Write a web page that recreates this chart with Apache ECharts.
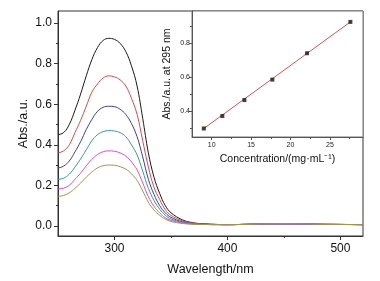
<!DOCTYPE html>
<html>
<head>
<meta charset="utf-8">
<script src="https://cdn.jsdelivr.net/npm/echarts@6/dist/echarts.min.js"></script>
<style>
  html, body { margin: 0; padding: 0; background: #fff; }
  #chart { width: 380px; height: 281px; }
</style>
</head>
<body>
<div id="chart"></div>
<script>
// Wavelength grid (nm)
const wavelengths = [250, 255, 260, 265, 270, 275, 280, 285, 290, 295, 300, 305, 310, 315, 320, 325, 330, 335, 340, 345, 350,
  360, 370, 380, 390, 400, 420, 440, 460, 480, 500, 520]

// Absorbance spectra, highest to lowest concentration
const absBlack = [0.45, 0.46, 0.50, 0.57, 0.65, 0.74, 0.82, 0.88, 0.915, 0.925, 0.92, 0.90, 0.86, 0.79, 0.69, 0.53, 0.36, 0.24, 0.16, 0.10, 0.065,
  0.03, 0.015, 0.01, 0.007, 0.006, 0.008, 0.01, 0.01, 0.008, 0.007, 0.006]
const absRed = [0.36, 0.37, 0.40, 0.46, 0.52, 0.59, 0.66, 0.70, 0.73, 0.74, 0.735, 0.72, 0.69, 0.63, 0.55, 0.42, 0.29, 0.19, 0.13, 0.08, 0.052,
  0.025, 0.013, 0.009, 0.007, 0.006, 0.008, 0.01, 0.01, 0.008, 0.007, 0.006]
const absBlue = [0.285, 0.295, 0.32, 0.365, 0.415, 0.475, 0.525, 0.565, 0.585, 0.59, 0.588, 0.575, 0.55, 0.505, 0.44, 0.34, 0.23, 0.155, 0.10, 0.064, 0.042,
  0.02, 0.011, 0.008, 0.007, 0.006, 0.008, 0.01, 0.01, 0.008, 0.007, 0.006]
const absTeal = [0.23, 0.235, 0.255, 0.29, 0.33, 0.375, 0.42, 0.45, 0.465, 0.47, 0.468, 0.46, 0.44, 0.40, 0.35, 0.27, 0.185, 0.125, 0.082, 0.052, 0.034,
  0.017, 0.01, 0.007, 0.006, 0.006, 0.008, 0.01, 0.01, 0.008, 0.007, 0.006]
const absMagenta = [0.182, 0.186, 0.20, 0.23, 0.26, 0.296, 0.328, 0.352, 0.366, 0.37, 0.368, 0.36, 0.344, 0.316, 0.276, 0.212, 0.144, 0.096, 0.064, 0.04, 0.027,
  0.014, 0.009, 0.007, 0.006, 0.006, 0.008, 0.01, 0.01, 0.008, 0.007, 0.006]
const absOlive = [0.146, 0.15, 0.163, 0.185, 0.211, 0.24, 0.266, 0.286, 0.297, 0.30, 0.299, 0.292, 0.28, 0.257, 0.224, 0.172, 0.117, 0.078, 0.052, 0.033, 0.022,
  0.012, 0.008, 0.007, 0.006, 0.006, 0.008, 0.01, 0.01, 0.008, 0.007, 0.006]

// Inset: calibration points and fitted line
const concentration = [9.0, 11.35, 14.15, 17.7, 22.1, 27.6]
const abs295 = [0.30, 0.373, 0.467, 0.587, 0.742, 0.926]
const fitX = [9.0, 27.6]
const fitY = [0.30, 0.926]

// Tick labels
const mainYTicks = [0, 0.2, 0.4, 0.6, 0.8, 1.0]
const mainYMinor = [0.1, 0.3, 0.5, 0.7, 0.9]
const mainXTicks = [300, 400, 500]
const mainXMinor = [350, 450]
const insetYTicks = [0.4, 0.6, 0.8]
const insetYMinor = [0.3, 0.5, 0.7, 0.9]
const insetXTicks = [10, 15, 20, 25]
const insetXMinor = [12.5, 17.5, 22.5, 27.5]

const spectra = [
  { data: absBlack, color: '#1a1a1a' },
  { data: absRed, color: '#e04848' },
  { data: absBlue, color: '#3c3ca8' },
  { data: absTeal, color: '#3a96a8' },
  { data: absMagenta, color: '#e048e0' },
  { data: absOlive, color: '#9c9a48' }
]

const font = 'Liberation Sans, Arial, sans-serif'
const axisCol = '#333'

const pair = (xs, ys) => xs.map((x, i) => [x, ys[i]])

// Axis that only draws short ticks at the given values (minor ticks)
const tickAxis = (base, values, col) => Object.assign({
  type: 'value',
  axisLine: { show: false, onZero: false },
  splitLine: { show: false },
  axisTick: { show: true, customValues: values, length: 2, lineStyle: { color: col || axisCol } },
  axisLabel: { show: false }
}, base)

const chart = echarts.init(document.getElementById('chart'))

chart.setOption({
  backgroundColor: '#fff',
  animation: false,
  grid: [
    { left: 58, top: 11, right: 17, bottom: 43, show: true, borderColor: axisCol, borderWidth: 1 },
    { left: 192, top: 11, right: 17, bottom: 144, show: true, borderColor: '#777', borderWidth: 1, backgroundColor: '#fff' }
  ],
  xAxis: [
    {
      type: 'value', gridIndex: 0, min: 250, max: 520, position: 'bottom',
      name: 'Wavelength/nm', nameLocation: 'middle', nameGap: 27,
      nameTextStyle: { fontFamily: font, fontSize: 12.5, color: '#111' },
      axisLine: { onZero: false, lineStyle: { color: axisCol } },
      splitLine: { show: false },
      axisTick: { customValues: mainXTicks, length: 4, lineStyle: { color: axisCol } },
      axisLabel: { customValues: mainXTicks, fontFamily: font, fontSize: 12, color: '#111', margin: 7 }
    },
    tickAxis({ gridIndex: 0, min: 250, max: 520, position: 'bottom' }, mainXMinor),
    {
      type: 'value', gridIndex: 1, min: 7.5, max: 29.2, position: 'bottom',
      name: 'Concentration/(mg·mL⁻¹)', nameLocation: 'middle', nameGap: 17,
      nameTextStyle: { fontFamily: font, fontSize: 10.5, color: '#111' },
      axisLine: { onZero: false, lineStyle: { color: '#555' } },
      splitLine: { show: false },
      axisTick: { customValues: insetXTicks, length: 3, lineStyle: { color: '#555' } },
      axisLabel: { customValues: insetXTicks, fontFamily: font, fontSize: 7, color: '#222', margin: 5 }
    },
    tickAxis({ gridIndex: 1, min: 7.5, max: 29.2, position: 'bottom' }, insetXMinor, '#555')
  ],
  yAxis: [
    {
      type: 'value', gridIndex: 0, min: -0.05, max: 1.06, position: 'left',
      name: 'Abs./a.u.', nameLocation: 'middle', nameGap: 28, nameMoveOverlap: false,
      nameTextStyle: { fontFamily: font, fontSize: 12.5, color: '#111' },
      axisLine: { show: true, onZero: false, lineStyle: { color: axisCol } },
      splitLine: { show: false },
      axisTick: { customValues: mainYTicks, length: 4, lineStyle: { color: axisCol } },
      axisLabel: { customValues: mainYTicks, fontFamily: font, fontSize: 12, color: '#111', margin: 6,
        formatter: v => v.toFixed(1) }
    },
    tickAxis({ gridIndex: 0, min: -0.05, max: 1.06, position: 'left' }, mainYMinor),
    {
      type: 'value', gridIndex: 1, min: 0.25, max: 0.99, position: 'left',
      name: 'Abs./a.u. at 295 nm', nameLocation: 'middle', nameGap: 19,
      nameTextStyle: { fontFamily: font, fontSize: 10.5, color: '#111' },
      axisLine: { show: true, onZero: false, lineStyle: { color: '#555' } },
      splitLine: { show: false },
      axisTick: { customValues: insetYTicks, length: 3, lineStyle: { color: '#555' } },
      axisLabel: { customValues: insetYTicks, fontFamily: font, fontSize: 7, color: '#222', margin: 2,
        formatter: v => v.toFixed(1) }
    },
    tickAxis({ gridIndex: 1, min: 0.25, max: 0.99, position: 'left' }, insetYMinor, '#555')
  ],
  series: [
    ...spectra.map(s => ({
      type: 'line', xAxisIndex: 0, yAxisIndex: 0,
      data: pair(wavelengths, s.data),
      smooth: 0.4, symbol: 'none',
      lineStyle: { color: s.color, width: 1 },
      z: 3
    })),
    {
      type: 'line', xAxisIndex: 2, yAxisIndex: 2,
      data: pair(fitX, fitY), symbol: 'none',
      lineStyle: { color: '#e05050', width: 1 },
      z: 5
    },
    {
      type: 'scatter', xAxisIndex: 2, yAxisIndex: 2,
      data: pair(concentration, abs295),
      symbol: 'rect', symbolSize: 4,
      itemStyle: { color: '#111' },
      z: 6
    }
  ]
})
</script>
</body>
</html>
